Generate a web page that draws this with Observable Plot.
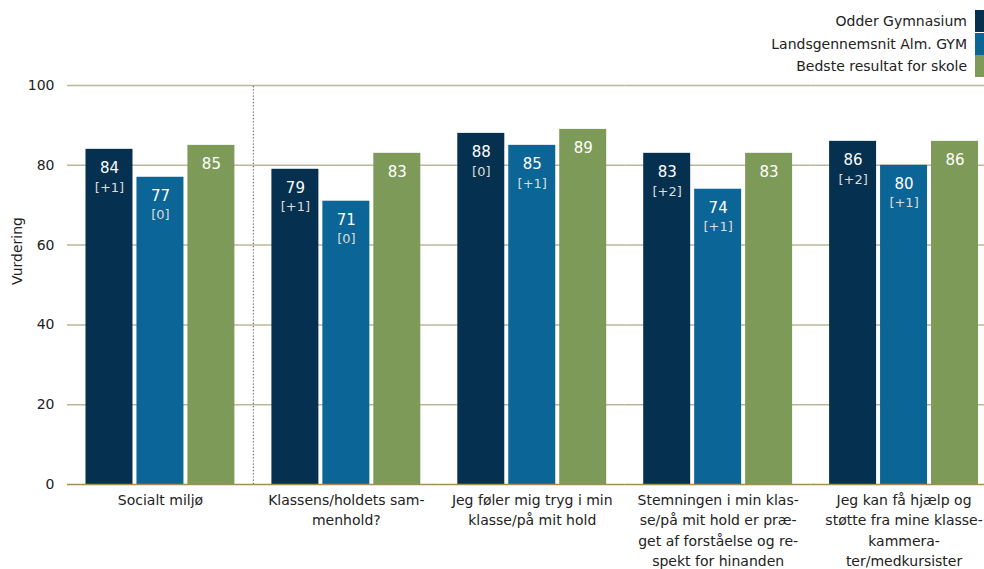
<!DOCTYPE html>
<html><head><meta charset="utf-8">
<script src="https://cdn.jsdelivr.net/npm/d3@7"></script>
<script src="https://cdn.jsdelivr.net/npm/@observablehq/plot@0.6"></script>
<style>
body{margin:0;background:#fff;font-family:"DejaVu Sans",Verdana,sans-serif;}
#wrap{position:relative;width:984px;height:569px;overflow:hidden;}
#legend{position:relative;height:70px;z-index:2;}
.li{position:absolute;right:0;height:22px;display:flex;align-items:center;font-size:14px;color:#222;}
.li span.sw{display:inline-block;width:14px;height:22px;margin-left:3px;position:relative;left:5px;}
#chart svg{display:block;}
</style></head>
<body><div id="wrap"><div id="legend"></div><div id="chart"></div></div>
<script>
const categories = [
  "Socialt miljø",
  "Klassens/holdets sam-\nmenhold?",
  "Jeg føler mig tryg i min\nklasse/på mit hold",
  "Stemningen i min klas-\nse/på mit hold er præ-\nget af forståelse og re-\nspekt for hinanden",
  "Jeg kan få hjælp og\nstøtte fra mine klasse-\nkammera-\nter/medkursister"
];
const series = ["Odder Gymnasium", "Landsgennemsnit Alm. GYM", "Bedste resultat for skole"];
const odder = [84, 79, 88, 83, 86];
const lands = [77, 71, 85, 74, 80];
const bedste = [85, 83, 89, 83, 86];
const odderChange = ["[+1]", "[+1]", "[0]", "[+2]", "[+2]"];
const landsChange = ["[0]", "[0]", "[+1]", "[+1]", "[+1]"];
const bedsteChange = ["", "", "", "", ""];
const yTicks = [0, 20, 40, 60, 80, 100];
const yLabel = "Vurdering";
const colors = ["#05304f", "#0b6596", "#7e9a58"];

const values = [odder, lands, bedste];
const changes = [odderChange, landsChange, bedsteChange];
const rows = [];
categories.forEach((c, i) => series.forEach((s, j) => rows.push({cat: c, s, v: values[j][i], ch: changes[j][i]})));

// legend
const leg = document.getElementById("legend");
const tops = [10, 33, 55];
series.forEach((s, j) => {
  const d = document.createElement("div");
  d.className = "li";
  d.style.top = tops[j] + "px";
  d.innerHTML = `<span>${s}</span><span class="sw" style="background:${colors[j]}"></span>`;
  leg.appendChild(d);
});

const font = "DejaVu Sans, Verdana, sans-serif";
const chart = Plot.plot({
  width: 984,
  height: 499,
  marginLeft: 67,
  marginRight: -12.5,
  marginTop: 15,
  marginBottom: 85,
  style: {fontFamily: font, fontSize: "14px", color: "#222", background: "transparent"},
  fx: {domain: categories, padding: 0, axis: null, round: false},
  x: {domain: series, paddingInner: 0.078, paddingOuter: 0.363, axis: null, round: false},
  y: {domain: [0, 100], ticks: yTicks, tickSize: 0, tickPadding: 13, label: null},
  color: {domain: series, range: colors},
  marks: [
    Plot.ruleY(yTicks.filter(t => t > 0), {stroke: "#bdb59a", strokeWidth: 1.5}),
    Plot.barY(rows, {fx: "cat", x: "s", y: "v", fill: "s"}),
    Plot.ruleY([0], {stroke: "#a38d55", strokeWidth: 1.5}),
    Plot.ruleX([{cat: categories[0], s: series[2]}], {fx: "cat", x: "s", dx: 42, y1: 0, y2: 100, stroke: "#666", strokeWidth: 1.2, strokeDasharray: "1.2,2"}),
    Plot.text(rows, {fx: "cat", x: "s", y: "v", text: d => String(d.v), dy: 19, fill: "#fff", fontSize: 15}),
    Plot.text(rows, {fx: "cat", x: "s", y: "v", text: "ch", dy: 38, fill: "#dcdcdc", fontSize: 13}),
    Plot.text(categories, {fx: d => d, text: d => d, frameAnchor: "bottom", lineAnchor: "top", dy: 6, lineHeight: 1.45, fill: "#222", fontSize: 14}),
    Plot.text([{cat: categories[0], t: yLabel}], {fx: "cat", text: "t", frameAnchor: "left", rotate: -90, dx: -50, fill: "#222", fontSize: 14})
  ]
});
document.getElementById("chart").appendChild(chart);
</script>
</body></html>
